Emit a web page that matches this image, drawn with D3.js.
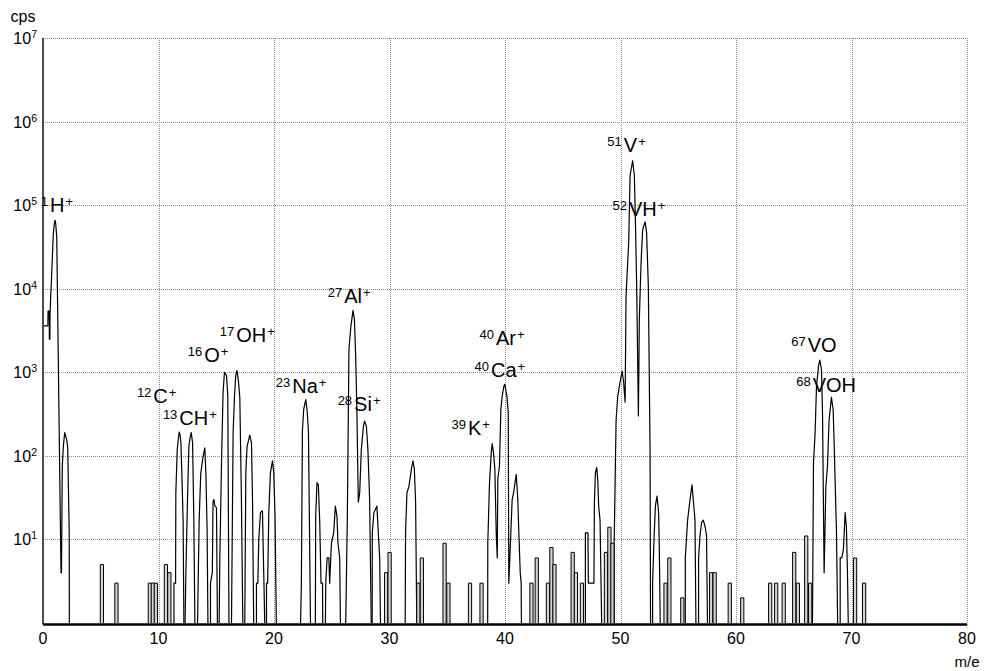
<!DOCTYPE html>
<html><head><meta charset="utf-8">
<script src="https://cdn.jsdelivr.net/npm/d3@7"></script>
<style>
body{margin:0;background:#fff}
svg{display:block}
text{font-family:"Liberation Sans",Arial,Helvetica,sans-serif;fill:#000}
</style>
</head><body>
<svg id="chart" width="985" height="671"></svg>
<script>
// ---------- axis ticks ----------
const xTicks = [0, 10, 20, 30, 40, 50, 60, 70, 80];
const yExponents = [1, 2, 3, 4, 5, 6, 7];
const xTitle = "m/e";
const yTitle = "cps";

// ---------- spectrum trace, [m/e, counts per second] ----------
const peakH = [[0.05,3600],[0.42,3600],[0.44,5400],[0.54,5400],[0.55,2500],[0.6,2500],[0.61,5000],[0.67,8100],[0.78,18600],[0.89,44600],[0.98,60000],[1.04,66000],[1.1,60000],[1.19,41500],[1.53,8],[1.56,4],[1.6,4],[1.67,75],[1.76,130],[1.88,190],[2.05,155],[2.14,126],[2.27,12],[2.28,0]];
const peakC12 = [[11.34,0],[11.34,3],[11.48,3],[11.5,36],[11.62,118],[11.72,160],[11.79,193],[11.86,180],[11.94,144],[12.02,63],[12.13,17],[12.2,0]];
const peakCH13 = [[12.3,0],[12.37,4],[12.51,30],[12.63,130],[12.75,170],[12.83,190],[12.95,145],[13.06,17],[13.15,0]];
const peak14 = [[13.38,0],[13.52,17],[13.66,62],[13.86,98],[14.01,125],[14.1,63],[14.21,13],[14.28,0]];
const peak15 = [[14.5,0],[14.5,3],[14.66,4],[14.72,28],[14.8,30],[14.88,25],[15.02,24],[15.1,0]];
const peakO16 = [[15.25,0],[15.31,6],[15.46,90],[15.59,570],[15.71,1000],[15.8,950],[15.89,920],[16.0,520],[16.1,0]];
const peakOH17 = [[16.32,0],[16.46,190],[16.58,520],[16.69,920],[16.8,1050],[16.93,760],[17.04,500],[17.18,30],[17.3,0]];
const peak18 = [[17.47,0],[17.56,63],[17.67,130],[17.9,177],[18.05,144],[18.14,30],[18.24,0]];
const peak19 = [[18.48,0],[18.48,3],[18.6,3],[18.68,10],[18.83,21],[19.0,22],[19.11,4],[19.2,0]];
const peak20 = [[19.35,0],[19.35,3],[19.45,3],[19.55,21],[19.69,63],[19.87,87],[19.98,63],[20.09,19],[20.2,0]];
const peakNa23 = [[22.3,0],[22.37,3],[22.46,200],[22.57,360],[22.75,470],[22.86,360],[22.98,200],[23.16,0]];
const peak24 = [[23.58,0],[23.61,19],[23.72,48],[23.84,45],[23.96,16],[24.07,3],[24.2,3],[24.22,0]];
const peak25 = [[24.45,0],[24.48,3],[24.6,6],[24.75,6],[24.82,3],[24.97,9],[25.17,12],[25.31,25],[25.45,19],[25.54,9],[25.69,6],[25.75,0]];
const peakAlSi = [[26.21,0],[26.35,19],[26.49,1900],[26.66,3600],[26.84,5500],[26.96,4300],[27.07,1570],[27.18,330],[27.3,28],[27.42,36],[27.56,120],[27.75,230],[27.85,260],[28.0,225],[28.13,120],[28.28,30],[28.42,0]];
const peak29 = [[28.5,0],[28.51,12],[28.65,21],[28.91,25],[29.03,12],[29.15,6],[29.22,0]];
const peak32 = [[31.36,0],[31.39,12],[31.51,36],[31.68,43],[31.9,70],[32.03,87],[32.15,70],[32.26,28],[32.36,0]];
const peakKCa = [[38.5,0],[38.51,9],[38.66,48],[38.81,110],[38.89,140],[39.0,110],[39.12,70],[39.24,12],[39.33,6],[39.38,53],[39.52,75],[39.64,360],[39.76,520],[39.9,680],[39.98,720],[40.16,520],[40.28,330],[40.33,3],[40.45,7.6],[40.62,30],[40.74,36],[40.97,60],[41.11,30],[41.19,13],[41.32,4],[41.4,3],[41.42,0]];
const peak47 = [[46.96,0],[46.96,12],[47.18,12],[47.22,3],[47.7,3],[47.74,28],[47.83,63],[47.94,73],[48.03,52],[48.11,25],[48.23,17],[48.32,2.7],[48.37,0]];
const peakV = [[49.45,0],[49.45,9],[49.62,270],[49.76,520],[49.96,760],[50.14,1030],[50.27,760],[50.4,440],[50.48,8200],[50.71,36000],[50.83,225000],[51.05,340000],[51.2,225000],[51.29,67000],[51.4,10800],[51.55,300],[51.63,4300],[51.78,20600],[51.92,51000],[52.13,63000],[52.26,47000],[52.41,10800],[52.56,110],[52.6,0]];
const peak53 = [[52.78,0],[52.78,3],[52.9,10],[53.02,25],[53.16,33],[53.3,21],[53.36,8],[53.44,0]];
const peak56 = [[55.61,0],[55.61,6],[55.81,17],[56.02,30],[56.19,45],[56.3,30],[56.45,17],[56.53,0]];
const peak57 = [[56.76,0],[56.76,6],[56.88,11],[57.02,16],[57.17,17],[57.34,14],[57.45,11],[57.53,0]];
const peakVO = [[66.62,0],[66.71,83],[66.85,190],[66.97,680],[67.15,1200],[67.26,1400],[67.4,1080],[67.49,330],[67.63,4],[67.78,43],[67.92,75],[68.06,270],[68.26,500],[68.41,360],[68.52,110],[68.7,12],[68.8,0]];
const peak69 = [[69.02,0],[69.02,6],[69.16,6],[69.3,7.6],[69.45,21],[69.56,14],[69.65,4],[69.72,0]];

// ---------- isolated noise counts ----------
const noiseMass   = [5.1, 6.36, 9.25, 9.51, 9.77, 10.64, 10.94, 29.71, 30.01, 32.5, 32.8, 34.77, 35.1, 36.97, 37.97, 42.29, 42.75, 43.72, 44.02, 44.28, 45.86, 46.14, 46.66, 48.74, 49.04, 49.3, 53.9, 54.23, 55.35, 57.85, 58.15, 59.46, 60.54, 62.96, 63.48, 64.13, 65.04, 65.36, 66.08, 66.42, 70.31, 71.09];
const noiseCounts = [5, 3, 3, 3, 3, 5, 4, 4, 7, 3, 6, 9, 3, 3, 3, 3, 6, 3, 8, 5, 7, 4, 3, 7, 14, 9, 3, 6, 2, 4, 4, 3, 2, 3, 3, 3, 7, 3, 11, 3, 6, 3];

// ---------- peak annotations ----------
const labelMass    = ["1", "12", "13", "16", "17", "23", "27", "28", "39", "40", "40", "51", "52", "67", "68"];
const labelSpecies = ["H", "C", "CH", "O", "OH", "Na", "Al", "Si", "K", "Ar", "Ca", "V", "VH", "VO", "VOH"];
const labelCharge  = ["+", "+", "+", "+", "+", "+", "+", "+", "+", "+", "+", "+", "+", "", ""];
const labelAtMass  = [-0.2, 8.13, 10.38, 12.54, 15.31, 20.15, 24.65, 25.51, 35.37, 37.79, 37.36, 48.86, 49.3, 64.78, 65.21];
const labelAtCps   = [83000, 430, 234, 1330, 2310, 566, 6760, 344, 178, 2126, 880, 434000, 74300, 1754, 582];

// ---------- drawing ----------
const svg = d3.select("#chart");
const x = d3.scaleLinear().domain([0, 80]).range([43, 967]);
const y = d3.scaleLog().domain([1, 1e7]).range([623, 38]);
const yv = v => y(Math.max(v, 1));

const plotLeft = x.range()[0], plotRight = x.range()[1];
const plotTop = y.range()[1], plotBottom = 624.5;

// gridlines via axes
const gridY = svg.append("g").attr("transform", `translate(${plotLeft},0)`)
  .call(d3.axisLeft(y).tickValues(yExponents.map(e => Math.pow(10, e)))
    .tickSize(-(plotRight - plotLeft)).tickFormat(""));
gridY.select(".domain").remove();
gridY.selectAll(".tick").attr("transform", d => `translate(0,${Math.round(y(d)) + 0.5})`);
gridY.selectAll("line").attr("stroke", "#8c8c8c").attr("stroke-dasharray", "1,1").attr("x1", 1.5).attr("stroke-width", 1)
  .attr("shape-rendering", "crispEdges");

const gridX = svg.append("g").attr("transform", `translate(0,${plotBottom})`)
  .call(d3.axisBottom(x).tickValues(xTicks.filter(t => t !== 0))
    .tickSize(-(plotBottom - plotTop)).tickFormat(""));
gridX.select(".domain").remove();
gridX.selectAll(".tick").attr("transform", d => `translate(${Math.round(x(d)) + 0.5},0)`);
gridX.selectAll("line").attr("stroke", "#8c8c8c").attr("stroke-dasharray", "1,1").attr("stroke-width", 1)
  .attr("shape-rendering", "crispEdges");

// spectrum trace
const line = d3.line().x(d => x(d[0])).y(d => yv(d[1]));
const peaks = [peakH, peakC12, peakCH13, peak14, peak15, peakO16, peakOH17, peak18, peak19, peak20,
  peakNa23, peak24, peak25, peakAlSi, peak29, peak32, peakKCa, peak47, peakV, peak53, peak56, peak57, peakVO, peak69];
svg.append("g").selectAll("path").data(peaks).join("path")
  .attr("d", line).attr("fill", "none").attr("stroke", "#000").attr("stroke-width", 1.2)
  .attr("stroke-linejoin", "round");

// noise bars
const halfW = 0.14;
const noise = noiseMass.map((m, i) => [[m - halfW, 0], [m - halfW, noiseCounts[i]], [m + halfW, noiseCounts[i]], [m + halfW, 0]]);
svg.append("g").selectAll("path").data(noise).join("path")
  .attr("d", line).attr("fill", "#d4d4d4").attr("stroke", "#000").attr("stroke-width", 1);

// axes lines
svg.append("line").attr("x1", plotLeft).attr("x2", plotLeft).attr("y1", plotTop).attr("y2", plotBottom)
  .attr("stroke", "#111").attr("stroke-width", 1.5);
svg.append("line").attr("x1", plotLeft).attr("x2", plotRight).attr("y1", plotBottom).attr("y2", plotBottom)
  .attr("stroke", "#000").attr("stroke-width", 2.6);

// y tick labels 10^n
yExponents.forEach(e => {
  const t = svg.append("text").attr("x", 37).attr("y", y(Math.pow(10, e)) + 6)
    .attr("text-anchor", "end").style("font-size", "16px");
  t.append("tspan").text("10");
  t.append("tspan").attr("dy", -6).style("font-size", "10.5px").text(e);
});

// x tick labels
xTicks.forEach(v => {
  svg.append("text").attr("x", x(v)).attr("y", 644).attr("text-anchor", "middle")
    .style("font-size", "16px").text(v);
});

svg.append("text").attr("x", x(80)).attr("y", 667).attr("text-anchor", "middle")
  .style("font-size", "15px").text(xTitle);
svg.append("text").attr("x", 23).attr("y", 22).attr("text-anchor", "middle")
  .style("font-size", "16px").text(yTitle);

// peak annotations
labelSpecies.forEach((s, i) => {
  const t = svg.append("text").attr("x", x(labelAtMass[i])).attr("y", y(labelAtCps[i]))
    .style("font-size", "20px");
  t.append("tspan").attr("dy", -6).style("font-size", "13px").text(labelMass[i]);
  t.append("tspan").attr("dy", 6).attr("dx", 2).text(s);
  if (labelCharge[i]) t.append("tspan").attr("dy", -6).attr("dx", 1).style("font-size", "13px").text(labelCharge[i]);
});
</script>
</body></html>
